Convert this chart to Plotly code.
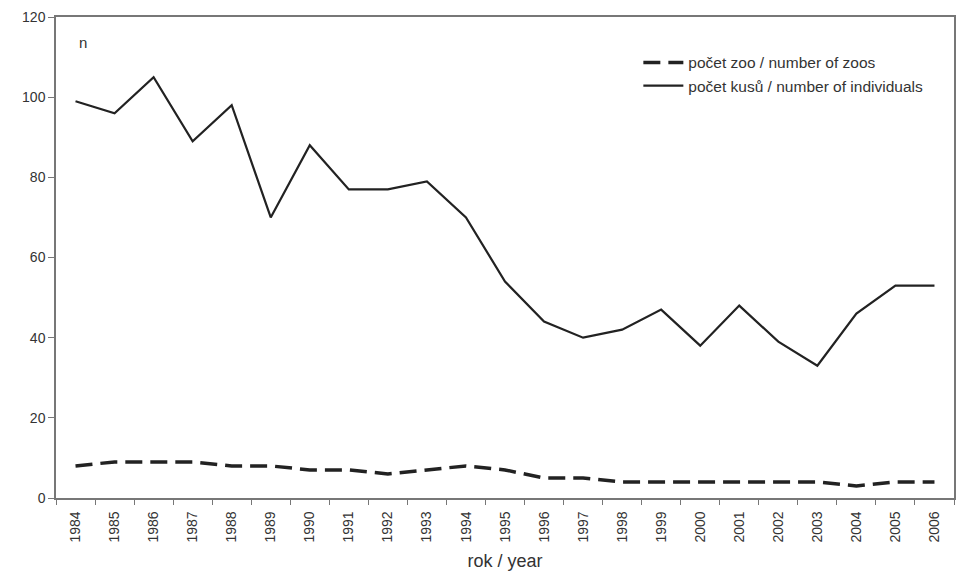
import plotly.graph_objects as go

years = [str(y) for y in range(1984, 2007)]
zoos = [8, 9, 9, 9, 8, 8, 7, 7, 6, 7, 8, 7, 5, 5, 4, 4, 4, 4, 4, 4, 3, 4, 4]
individuals = [99, 96, 105, 89, 98, 70, 88, 77, 77, 79, 70, 54, 44, 40, 42, 47, 38, 48, 39, 33, 46, 53, 53]
y_ticks = [0, 20, 40, 60, 80, 100, 120]

font = "Liberation Sans, Arial, sans-serif"

fig = go.Figure()
fig.add_trace(go.Scatter(
    x=years, y=zoos, mode="lines", name="počet zoo / number of zoos",
    line=dict(color="#222222", width=3.5, dash="17px,8px"),
))
fig.add_trace(go.Scatter(
    x=years, y=individuals, mode="lines", name="počet kusů / number of individuals",
    line=dict(color="#222222", width=2.2),
))

fig.update_layout(
    width=956, height=571,
    margin=dict(l=56, r=2, t=17, b=73),
    paper_bgcolor="white", plot_bgcolor="white",
    font=dict(family=font, size=14, color="#333333"),
    showlegend=True,
    legend=dict(x=0.6485, y=0.94, xanchor="left", yanchor="top",
                bgcolor="rgba(0,0,0,0)", font=dict(size=15.5, color="#333333"),
                tracegroupgap=0, itemwidth=40),
    annotations=[dict(text="n", x=0.0235, y=0.948, xref="paper", yref="paper",
                      xanchor="left", yanchor="middle", showarrow=False,
                      font=dict(size=15, color="#333333"))],
)
fig.update_xaxes(
    type="category", range=[-0.5, 22.5], tickson="boundaries", ticks="outside", ticklen=5,
    tickcolor="#777777", showline=True, linecolor="#777777", linewidth=1.5,
    mirror=True, showgrid=False, tickangle=-90, automargin=False,
    ticklabelstandoff=6,
    tickfont=dict(size=14, color="#333333"),
    title=dict(text="rok / year", font=dict(size=18, color="#333333"), standoff=14),
)
fig.update_yaxes(
    range=[0, 120], tickvals=y_ticks, ticks="outside", ticklen=6,
    tickcolor="#777777", showline=True, linecolor="#777777", linewidth=1.5,
    mirror=True, showgrid=False, zeroline=False, automargin=False,
    tickfont=dict(size=14, color="#333333"),
)

fig.write_html("out.html", config={"displayModeBar": False},
               post_script="document.body.style.margin='0';document.body.style.overflow='hidden';")
